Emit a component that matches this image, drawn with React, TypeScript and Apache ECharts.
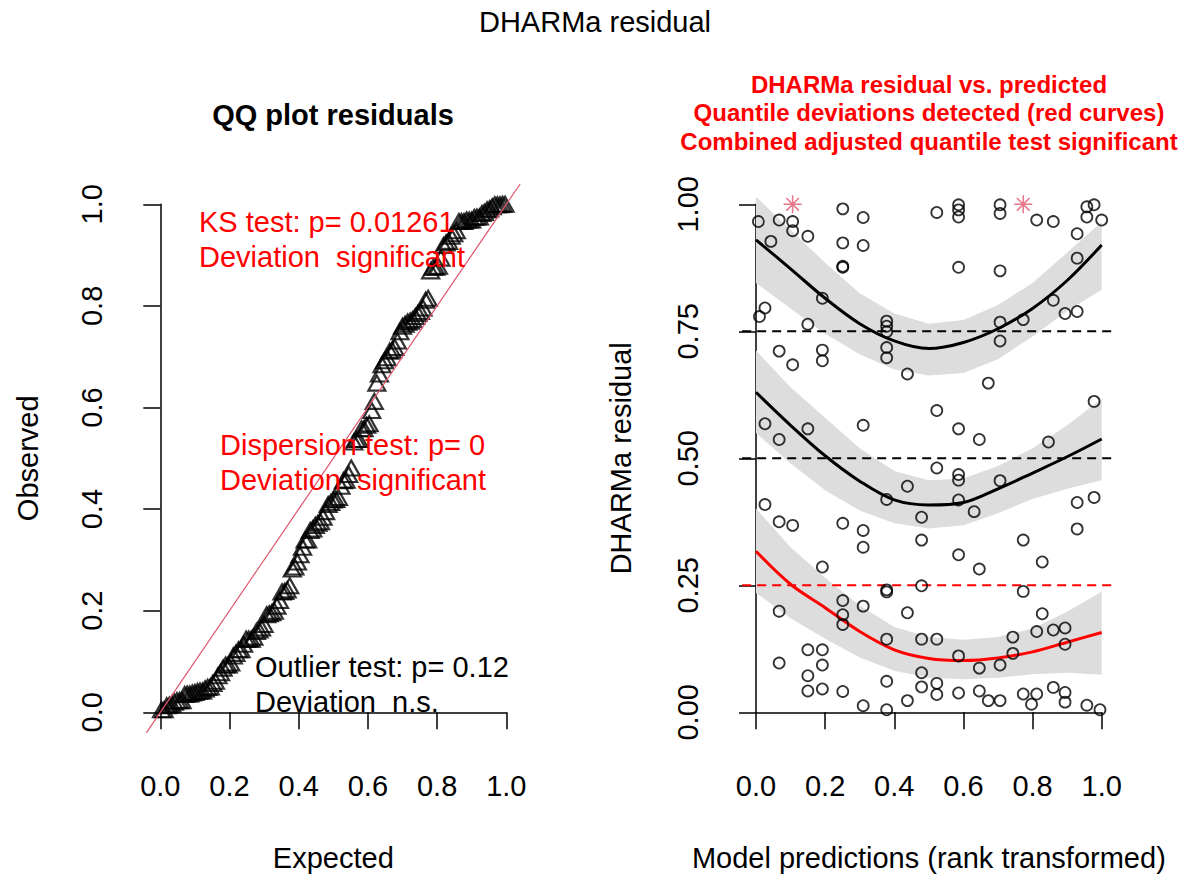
import { useEffect, useRef } from "react";
import * as echarts from "echarts";

const FONT = "'Liberation Sans', Arial, Helvetica, sans-serif";

// ---- Right panel data: rank-transformed predictions (x) and DHARMa residuals (y)
const predRank = [
  0.007, 0.067, 0.106, 0.106, 0.15, 0.043, 0.251, 0.31, 0.251, 0.31, 0.251, 0.251,
  0.523, 0.586, 0.586, 0.586, 0.706, 0.706, 0.812, 0.86, 0.957, 0.978, 0.957, 1.0,
  0.929, 0.929, 0.586, 0.706, 0.192, 0.026, 0.01, 0.15, 0.378, 0.378, 0.378, 0.378,
  0.378, 0.706, 0.706, 0.773, 0.86, 0.894, 0.929, 0.067, 0.106, 0.192, 0.192, 0.438,
  0.672, 0.523, 0.586, 0.646, 0.978, 0.026, 0.067, 0.15, 0.31, 0.846,
  0.523, 0.586, 0.586, 0.438, 0.706, 0.378, 0.586, 0.479, 0.631, 0.929, 0.978, 0.026,
  0.067, 0.106, 0.251, 0.31, 0.31, 0.479, 0.586, 0.646, 0.773, 0.828, 0.929, 0.192,
  0.378, 0.378, 0.479, 0.773, 0.067, 0.251, 0.251, 0.251, 0.31, 0.438, 0.828, 0.378,
  0.479, 0.523, 0.743, 0.812, 0.86, 0.894, 0.894, 0.743, 0.586, 0.706, 0.646, 0.067,
  0.15, 0.192, 0.192, 0.15, 0.15, 0.192, 0.251, 0.31, 0.378, 0.378, 0.438, 0.479,
  0.479, 0.523, 0.523, 0.586, 0.646, 0.672, 0.706, 0.773, 0.797, 0.812, 0.86, 0.894,
  0.894, 0.957, 0.995,
];
const residual = [
  0.966, 0.969, 0.966, 0.948, 0.937, 0.927, 0.991, 0.974, 0.924, 0.919, 0.878, 0.876,
  0.984, 0.999, 0.989, 0.975, 0.999, 0.982, 0.969, 0.966, 0.995, 0.999, 0.975, 0.969,
  0.942, 0.894, 0.876, 0.869, 0.815, 0.796, 0.779, 0.764, 0.77, 0.76, 0.749, 0.718,
  0.698, 0.768, 0.731, 0.773, 0.811, 0.785, 0.789, 0.711, 0.684, 0.713, 0.692, 0.666,
  0.648, 0.594, 0.558, 0.537, 0.612, 0.568, 0.537, 0.558, 0.565, 0.532,
  0.481, 0.468, 0.457, 0.445, 0.456, 0.419, 0.418, 0.384, 0.395, 0.413, 0.423, 0.409,
  0.375, 0.368, 0.372, 0.358, 0.325, 0.339, 0.31, 0.282, 0.339, 0.296, 0.361, 0.286,
  0.241, 0.237, 0.249, 0.238, 0.199, 0.22, 0.192, 0.173, 0.209, 0.196, 0.194, 0.144,
  0.144, 0.144, 0.148, 0.159, 0.162, 0.166, 0.134, 0.116, 0.111, 0.093, 0.087, 0.097,
  0.123, 0.123, 0.093, 0.072, 0.042, 0.046, 0.041, 0.013, 0.061, 0.005, 0.023, 0.078,
  0.05, 0.057, 0.035, 0.038, 0.042, 0.023, 0.023, 0.036, 0.016, 0.036, 0.049, 0.039,
  0.02, 0.014, 0.005,
];
// outliers (plotted as stars)
const outlierRank = [0.106, 0.773];
const outlierResid = [1.0, 1.0];

// ---- Quantile regression fits with confidence bands
const curveX = [0, 0.1, 0.2, 0.3, 0.4, 0.5, 0.6, 0.7, 0.8, 0.9, 1.0];
const q75Fit = [0.93, 0.873, 0.815, 0.765, 0.731, 0.716, 0.728, 0.755, 0.795, 0.85, 0.92];
const q75Hi = [1.015, 0.95, 0.885, 0.825, 0.785, 0.765, 0.772, 0.802, 0.845, 0.905, 0.965];
const q75Lo = [0.845, 0.795, 0.745, 0.705, 0.675, 0.663, 0.668, 0.695, 0.74, 0.79, 0.832];
const q50Fit = [0.63, 0.565, 0.505, 0.455, 0.418, 0.408, 0.413, 0.44, 0.471, 0.503, 0.538];
const q50Hi = [0.712, 0.64, 0.58, 0.52, 0.475, 0.457, 0.46, 0.485, 0.52, 0.565, 0.617];
const q50Lo = [0.55, 0.49, 0.437, 0.397, 0.372, 0.362, 0.368, 0.392, 0.42, 0.44, 0.457];
const q25Fit = [0.317, 0.252, 0.206, 0.159, 0.123, 0.106, 0.102, 0.107, 0.119, 0.138, 0.157];
const q25Hi = [0.401, 0.325, 0.265, 0.21, 0.168, 0.148, 0.143, 0.148, 0.165, 0.198, 0.238];
const q25Lo = [0.235, 0.185, 0.145, 0.108, 0.082, 0.068, 0.065, 0.068, 0.075, 0.078, 0.074];
const quantileLevels = [0.25, 0.5, 0.75];
const quantileSignificant = [true, false, false];
const plotSpan = [-0.04, 1.04];

// ---- Texts
const superTitle = "DHARMa residual";
const leftTitle = "QQ plot residuals";
const rightTitleLines = [
  "DHARMa residual vs. predicted",
  "Quantile deviations detected (red curves)",
  "Combined adjusted quantile test significant",
];
const ksLines = ["KS test: p= 0.01261", "Deviation  significant"];
const dispLines = ["Dispersion test: p= 0", "Deviation  significant"];
const outlierLines = ["Outlier test: p= 0.12", "Deviation  n.s."];

// QQ plot: sorted residuals against uniform expected quantiles
const sortedResid = [...residual, ...outlierResid].sort((a, b) => a - b);
const qqData = sortedResid.map((v, i) => [(i + 0.5) / sortedResid.length, v]);

const RED = "#FF0000";
const PINK = "#DF536B";

function text(t: string, x: number, y: number, size: number, weight: string, fill: string, align: string) {
  return {
    type: "text",
    x,
    y,
    z: 100,
    style: {
      text: t,
      font: `${weight} ${size}px ${FONT}`,
      fill,
      align,
      verticalAlign: "middle",
      textAlign: align,
      textVerticalAlign: "middle",
    },
  };
}

function axisBase(extra: any) {
  return {
    type: "value",
    min: 0,
    max: 1,
    nameLocation: "middle",
    axisLine: { show: true, lineStyle: { color: "#000", width: 1.5 } },
    axisTick: { show: true, length: 17, lineStyle: { color: "#000", width: 1.5 } },
    splitLine: { show: false },
    nameTextStyle: { color: "#000", fontSize: 29, fontFamily: FONT },
    ...extra,
  };
}

function labelStyle(digits: number, rotate: number, margin: number) {
  return {
    color: "#000",
    fontSize: 29,
    fontFamily: FONT,
    rotate,
    margin,
    showMinLabel: true,
    showMaxLabel: true,
    formatter: (v: number) => v.toFixed(digits),
  };
}

function band(lo: number[], hi: number[]) {
  return {
    type: "custom",
    xAxisIndex: 1,
    yAxisIndex: 1,
    clip: false,
    z: 1,
    silent: true,
    data: [[0, 0]],
    renderItem: (_p: any, api: any) => {
      const pts: number[][] = [];
      curveX.forEach((x, i) => pts.push(api.coord([x, hi[i]])));
      for (let i = curveX.length - 1; i >= 0; i--) pts.push(api.coord([curveX[i], lo[i]]));
      return { type: "polygon", shape: { points: pts }, style: { fill: "#DDDDDD" } };
    },
  };
}

function fitLine(vals: number[], color: string) {
  return {
    type: "line",
    xAxisIndex: 1,
    yAxisIndex: 1,
    z: 3,
    smooth: 0.35,
    symbol: "none",
    clip: false,
    lineStyle: { color, width: 3 },
    data: curveX.map((x, i) => [x, vals[i]]),
  };
}

const option: any = {
  animation: false,
  backgroundColor: "#fff",
  grid: [
    { left: 160.3, top: 204.3, width: 346, height: 510.7 },
    { left: 756, top: 204.3, width: 345.7, height: 510.7 },
  ],
  xAxis: [
    axisBase({
      gridIndex: 0,
      interval: 0.2,
      offset: 21.7,
      name: "Expected",
      nameGap: 109,
      axisLabel: labelStyle(1, 0, 37),
    }),
    axisBase({
      gridIndex: 1,
      interval: 0.2,
      offset: 21.7,
      name: "Model predictions (rank transformed)",
      nameGap: 109,
      axisLabel: labelStyle(1, 0, 37),
    }),
  ],
  yAxis: [
    axisBase({
      gridIndex: 0,
      interval: 0.2,
      offset: 14.6,
      name: "Observed",
      nameGap: 103,
      axisLabel: labelStyle(1, 90, 39),
    }),
    axisBase({
      gridIndex: 1,
      interval: 0.25,
      offset: 15,
      name: "DHARMa residual",
      nameGap: 106,
      axisLabel: labelStyle(2, 90, 39),
    }),
  ],
  graphic: [
    text(superTitle, 595, 22, 29, "normal", "#000", "center"),
    text(leftTitle, 333, 115, 29, "bold", "#000", "center"),
    ...rightTitleLines.map((l, i) => text(l, 929, 84 + i * 28.5, 24, "bold", RED, "center")),
    ...ksLines.map((l, i) => text(l, 199, 222 + i * 35, 29, "normal", RED, "left")),
    ...dispLines.map((l, i) => text(l, 220, 445 + i * 35, 29, "normal", RED, "left")),
    ...outlierLines.map((l, i) => text(l, 255, 667 + i * 35, 29, "normal", "#000", "left")),
  ],
  series: [
    {
      type: "scatter",
      xAxisIndex: 0,
      yAxisIndex: 0,
      symbol: "triangle",
      symbolSize: [17, 15],
      z: 3,
      itemStyle: { color: "rgba(0,0,0,0)", borderColor: "#000", borderWidth: 2.2 },
      data: qqData,
    },
    {
      // 1:1 reference line across the whole plotting region
      type: "custom",
      xAxisIndex: 0,
      yAxisIndex: 0,
      clip: false,
      z: 4,
      silent: true,
      data: [[0, 0]],
      renderItem: (_p: any, api: any) => {
        const a = api.coord([plotSpan[0], plotSpan[0]]);
        const b = api.coord([plotSpan[1], plotSpan[1]]);
        return {
          type: "line",
          shape: { x1: a[0], y1: a[1], x2: b[0], y2: b[1] },
          style: { stroke: PINK, lineWidth: 1.2 },
        };
      },
    },
    band(q25Lo, q25Hi),
    band(q50Lo, q50Hi),
    band(q75Lo, q75Hi),
    {
      // horizontal dashed lines at the tested quantiles
      type: "custom",
      xAxisIndex: 1,
      yAxisIndex: 1,
      clip: false,
      z: 2,
      silent: true,
      data: quantileLevels.map((q, i) => [i, q]),
      renderItem: (_p: any, api: any) => {
        const idx = api.value(0);
        const q = api.value(1);
        const a = api.coord([plotSpan[0], q]);
        const b = api.coord([plotSpan[1], q]);
        return {
          type: "line",
          shape: { x1: a[0], y1: a[1], x2: b[0], y2: b[1] },
          style: {
            stroke: quantileSignificant[idx] ? RED : "#000",
            lineWidth: 2,
            lineDash: [9, 6],
          },
        };
      },
    },
    fitLine(q25Fit, RED),
    fitLine(q50Fit, "#000"),
    fitLine(q75Fit, "#000"),
    {
      type: "scatter",
      xAxisIndex: 1,
      yAxisIndex: 1,
      symbol: "circle",
      symbolSize: 11,
      z: 5,
      itemStyle: { color: "rgba(0,0,0,0)", borderColor: "#000", borderWidth: 1.8 },
      data: predRank.map((x, i) => [x, residual[i]]),
    },
    {
      type: "scatter",
      xAxisIndex: 1,
      yAxisIndex: 1,
      symbol: "path://M10,0L10,20M0,10L20,10M3,3L17,17M3,17L17,3",
      symbolSize: 18,
      z: 5,
      itemStyle: { color: "rgba(0,0,0,0)", borderColor: PINK, borderWidth: 1.5 },
      data: outlierRank.map((x, i) => [x, outlierResid[i]]),
    },
  ],
};

export default function App() {
  const ref = useRef<HTMLDivElement>(null);
  useEffect(() => {
    if (!ref.current) return;
    const chart = echarts.init(ref.current, undefined, { renderer: "svg" });
    chart.setOption(option);
    return () => chart.dispose();
  }, []);
  return (
    <div
      ref={ref}
      style={{ position: "fixed", left: 0, top: 0, width: 1193, height: 877, background: "#fff" }}
    />
  );
}
